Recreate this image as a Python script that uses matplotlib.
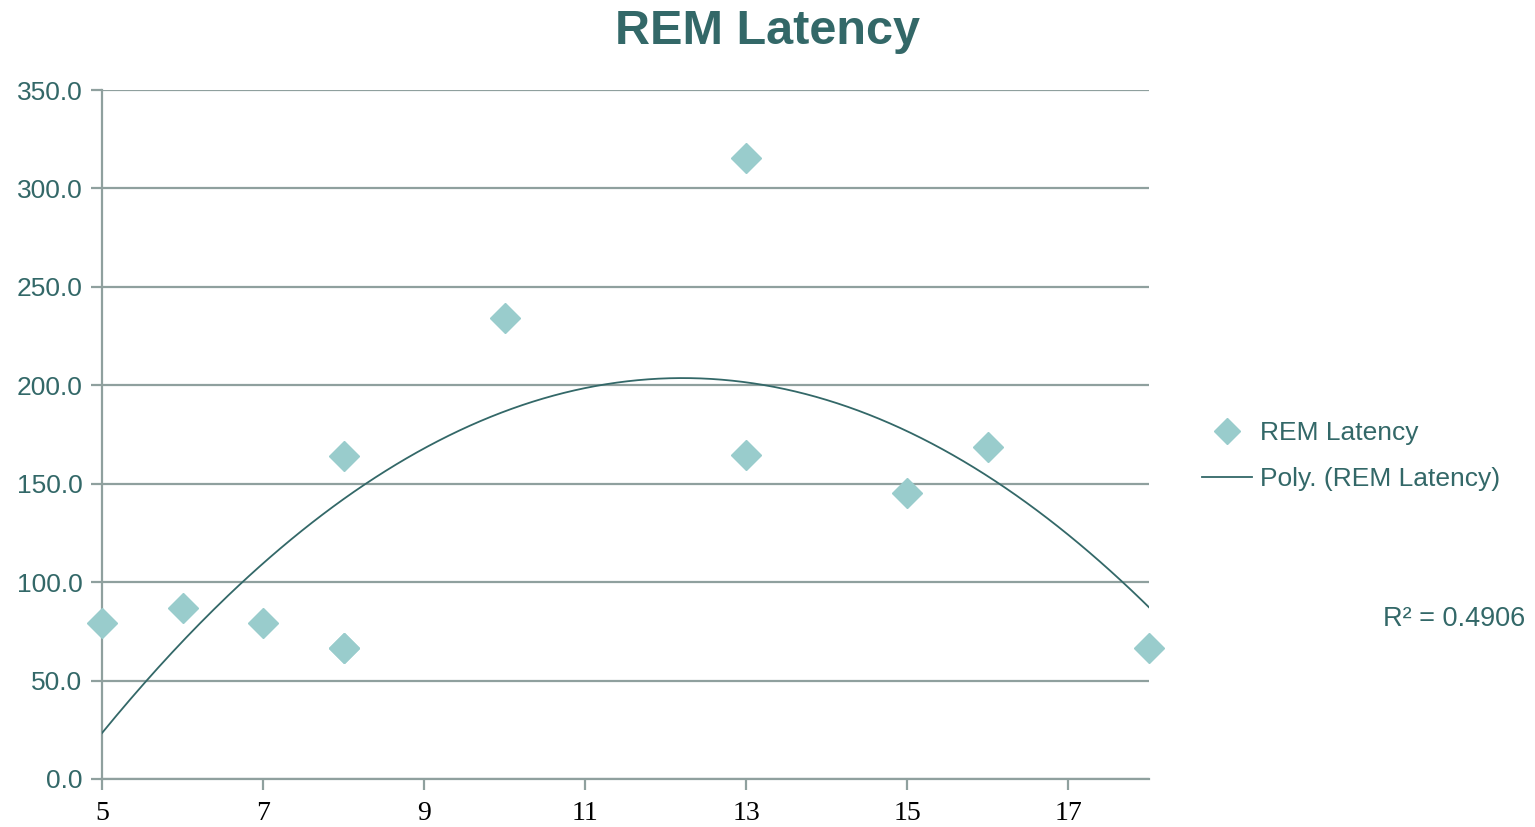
import numpy as np
import matplotlib
matplotlib.use("Agg")
import matplotlib.pyplot as plt
from matplotlib.lines import Line2D

# REM latency per subject (x = age group, y = minutes); two subjects share (8, 66.4)
ages = [5, 6, 7, 8, 8, 8, 10, 13, 13, 15, 16, 18]
latency = [79.1, 87.0, 79.4, 66.4, 66.4, 164.2, 234.0, 315.3, 164.6, 145.1, 168.5, 66.7]
r2_label = "R² = 0.4906"
x_ticks = [5, 7, 9, 11, 13, 15, 17]
y_ticks = [0, 50, 100, 150, 200, 250, 300, 350]

TEAL = "#336868"
MARKER = "#99CCCC"
GRID = "#8FA09E"

plt.rcParams["font.family"] = ["Liberation Sans", "DejaVu Sans"]

fig = plt.figure(figsize=(15.35, 8.27), dpi=100)
ax = fig.add_axes([102 / 1535, 48 / 827, (1149 - 102) / 1535, (779 - 90) / 827])

# second-order trendline
coef = np.polyfit(ages, latency, 2)
xs = np.linspace(5, 18, 300)
ax.plot(xs, np.polyval(coef, xs), color=TEAL, lw=1.3, zorder=3)

ax.plot(ages, latency, linestyle="none", marker="D", ms=15.5,
        color=MARKER, mec=MARKER, zorder=4, clip_on=False)

ax.set_xlim(5, 18)
ax.set_ylim(0, 350)
ax.set_xticks(x_ticks)
ax.set_yticks(y_ticks)
ax.set_yticklabels([f"{v:.1f}" for v in y_ticks])
ax.grid(axis="y", color=GRID, lw=1.6)
ax.set_axisbelow(True)
for s in ("top", "right"):
    ax.spines[s].set_visible(False)
for s in ("left", "bottom"):
    ax.spines[s].set_color(GRID)
    ax.spines[s].set_linewidth(1.6)
ax.tick_params(axis="both", colors=GRID, width=1.6, length=8)
ax.tick_params(axis="y", labelcolor=TEAL, labelsize=19, pad=6)
ax.tick_params(axis="x", labelcolor="black", labelsize=20, pad=8)
for lbl in ax.get_xticklabels():
    lbl.set_family("Liberation Serif")

fig.text(0.5, 1 - 32 / 827, "REM Latency", ha="center", va="center",
         fontsize=35, fontweight="bold", color=TEAL)

handles = [
    Line2D([], [], linestyle="none", marker="D", ms=13, color=MARKER),
    Line2D([], [], color=TEAL, lw=1.3),
]
fig.legend(handles, ["REM Latency", "Poly. (REM Latency)"],
           loc="center left", bbox_to_anchor=(1202 / 1535, 1 - 456 / 827),
           frameon=False, fontsize=19, labelcolor=TEAL,
           handlelength=1.9, handletextpad=0.3, labelspacing=0.85,
           borderpad=0, borderaxespad=0)

fig.text(1525 / 1535, 1 - 619 / 827, r2_label, ha="right", va="center",
         fontsize=19.5, color=TEAL)

fig.savefig("out.png", dpi=100)
